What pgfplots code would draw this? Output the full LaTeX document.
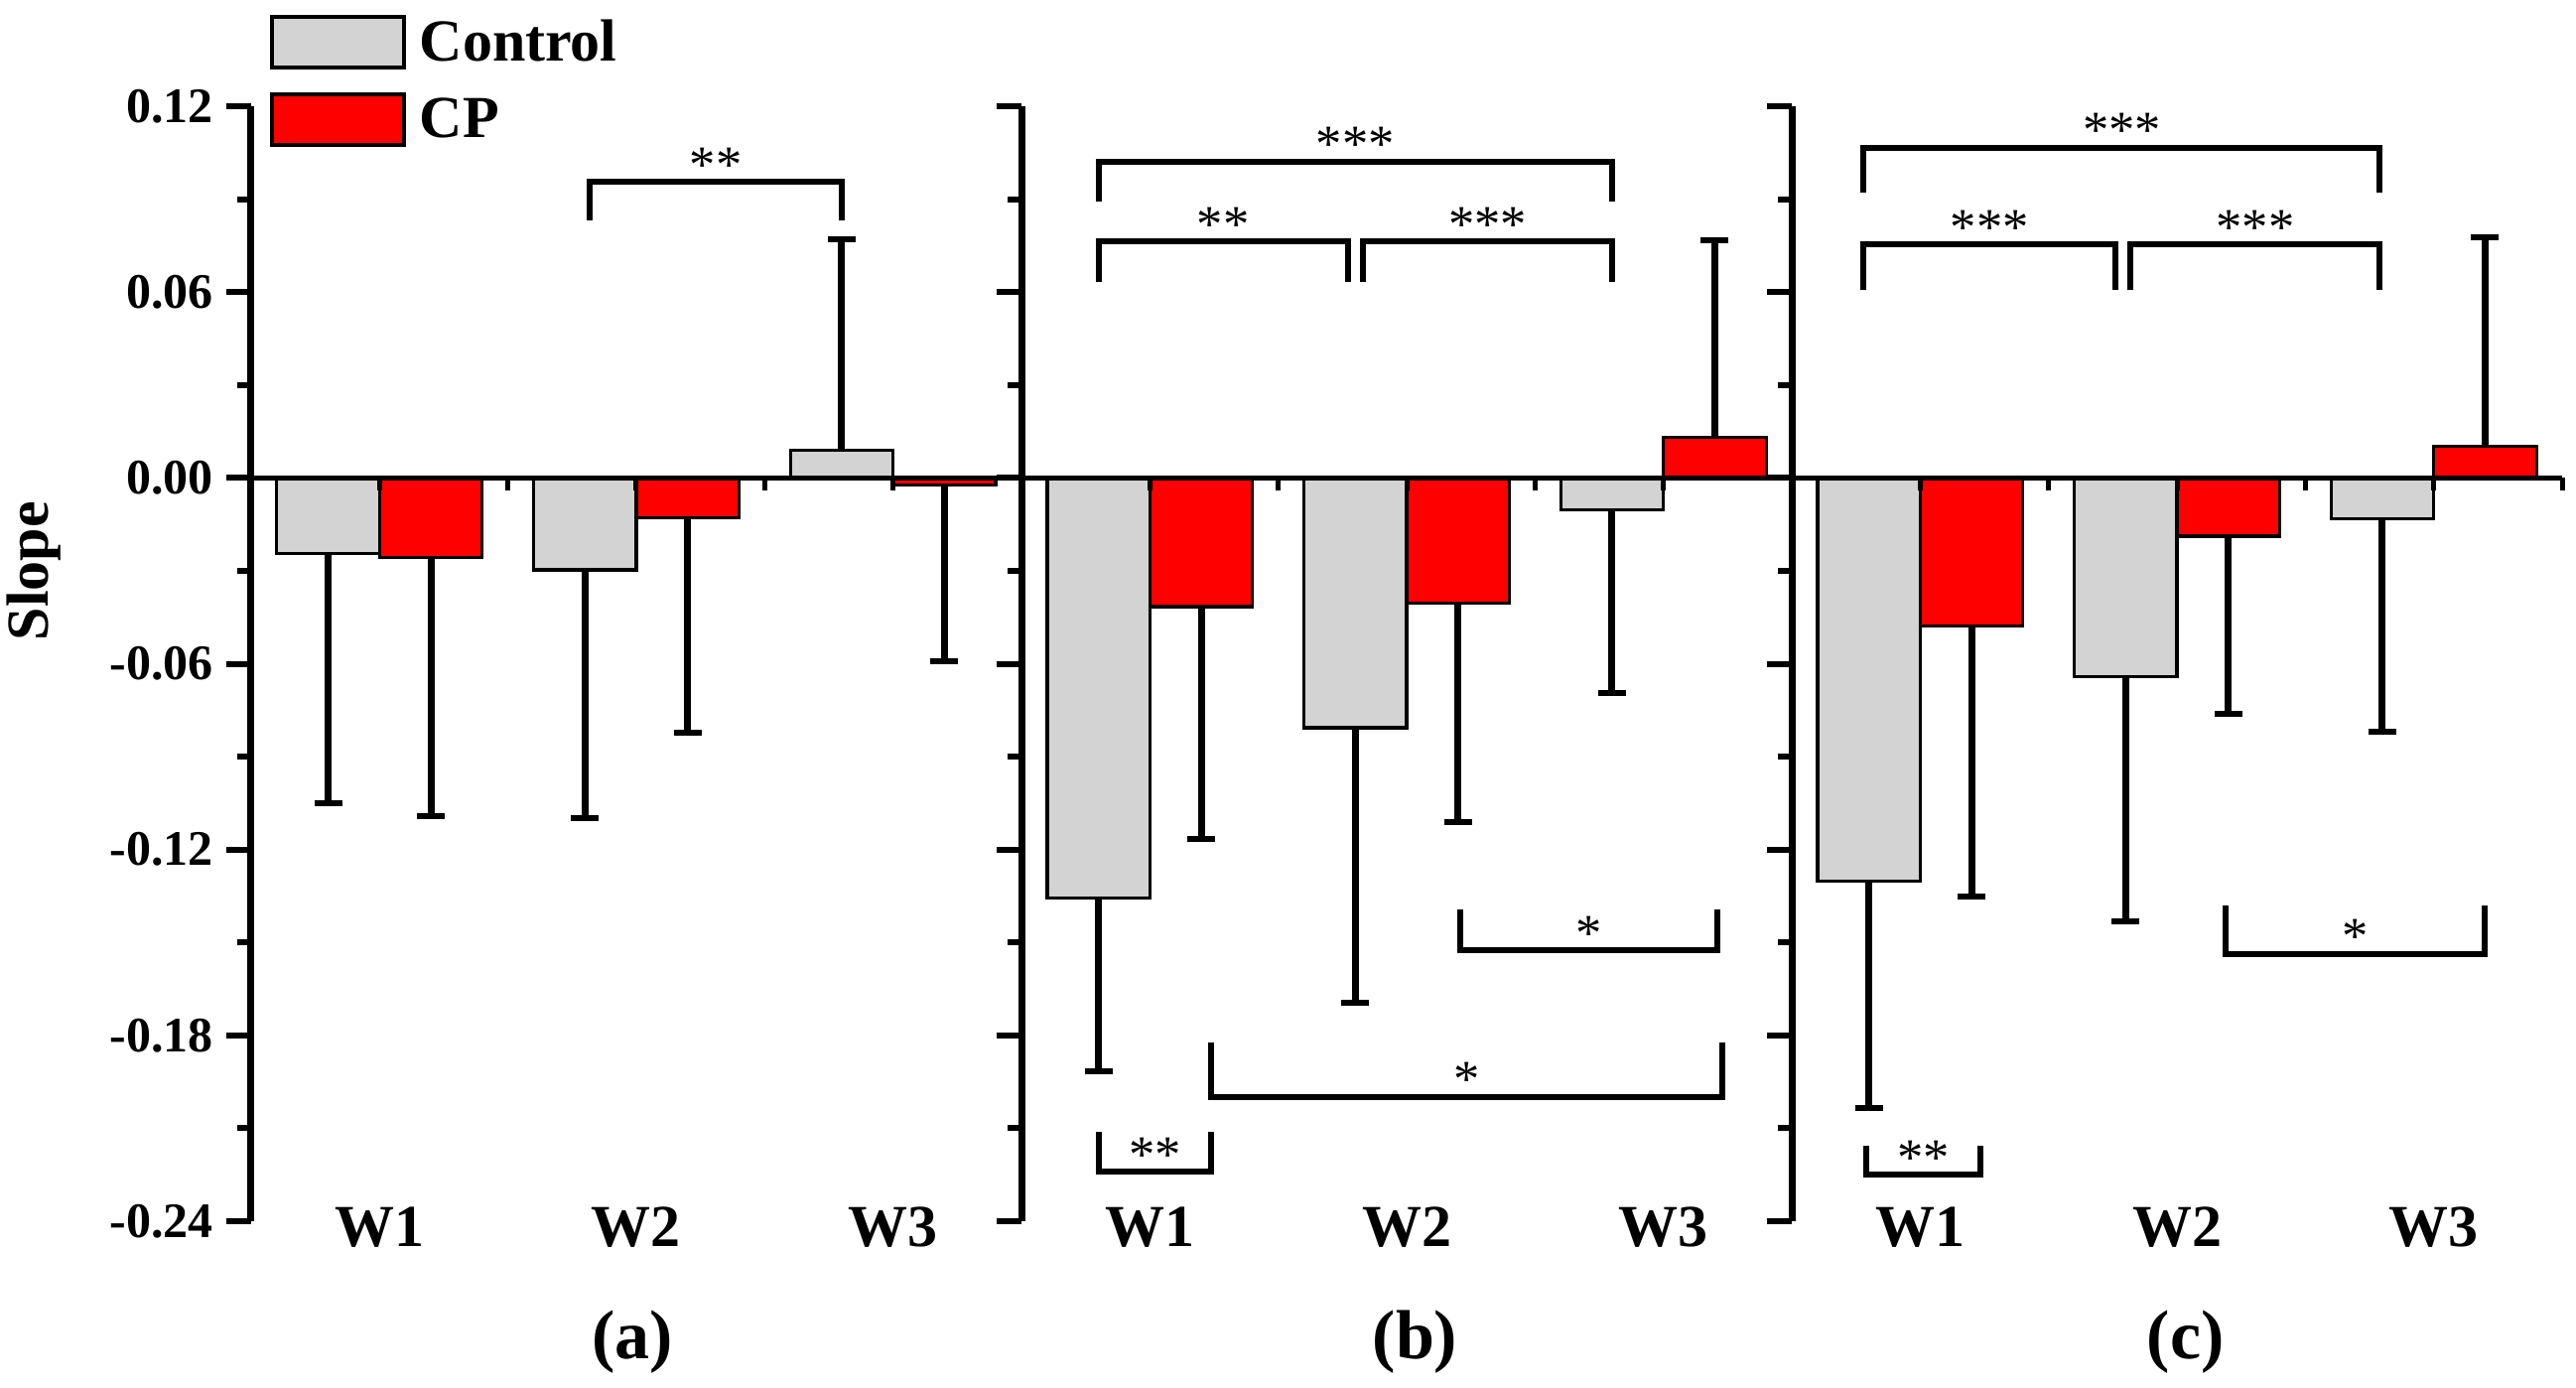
\documentclass[border=0pt]{standalone}
\usepackage{fontspec}
\setmainfont{Liberation Serif}
\usepackage{pgfplots}
\pgfplotsset{compat=1.18}
\definecolor{ctrl}{RGB}{211,211,211}
\definecolor{cpred}{RGB}{255,0,0}

\pgfplotsset{
  panel/.style={
    scale only axis, width=155.2pt, height=224.6pt,
    anchor=south west,
    xmin=0.5, xmax=3.5, ymin=-0.24, ymax=0.12,
    axis y line*=left, axis x line*=bottom,
    x axis line style={draw=none},
    y axis line style={line width=1.4pt},
    xtick={1,2,3}, xticklabels={W1,W2,W3},
    xtick style={draw=none},
    xtick align=inside, ytick align=outside,
    xticklabel style={font=\fontsize{12}{14}\selectfont\bfseries, anchor=base, yshift=-5pt},
    ytick={-0.24,-0.18,-0.12,-0.06,0,0.06,0.12},
    minor y tick num=1,
    major tick length=5pt, minor tick length=2.8pt,
    every tick/.style={black, line width=1.2pt},
    clip=false,
    xlabel style={font=\fontsize{14}{16}\selectfont\bfseries, anchor=center},
  },
  ctrlbar/.style={ybar, bar width=0.4, bar shift=0pt, fill=ctrl, draw=black, line width=0.65pt},
  cpbar/.style={ybar, bar width=0.4, bar shift=0pt, fill=cpred, draw=black, line width=0.65pt},
  errneg/.style={error bars/y dir=minus, error bars/y explicit,
    error bars/error bar style={line width=1.4pt, black},
    error bars/error mark options={rotate=90, mark size=2.8pt, line width=1.2pt, black}},
  errpos/.style={error bars/y dir=plus, error bars/y explicit,
    error bars/error bar style={line width=1.4pt, black},
    error bars/error mark options={rotate=90, mark size=2.8pt, line width=1.2pt, black}},
}

% zero line with small downward ticks
\newcommand{\zeroline}{%
  \draw[line width=1.1pt] (axis cs:0.5,0) -- (axis cs:3.5,0);
  \pgfplotsinvokeforeach{1,1.5,2,2.5,3,3.5}{\draw[line width=1pt] (axis cs:##1,0) -- ([yshift=-2.6pt]axis cs:##1,0);}
}
% significance bracket: x1, x2, y of bar, y of leg ends, x middle, label
\newcommand{\brk}[6]{%
  \draw[line width=1.2pt] (axis cs:#1,#4) -- (axis cs:#1,#3) -- (axis cs:#2,#3) -- (axis cs:#2,#4);
  \node[anchor=base, inner sep=0pt, font=\fontsize{10.5}{12}\selectfont] at (axis cs:#5,#3) {#6};
}

\begin{document}
\begin{tikzpicture}
% ---------------- (a) ----------------
\begin{axis}[panel, at={(0pt,0pt)},
  yticklabels={-0.24,-0.18,-0.12,-0.06,0.00,0.06,0.12},
  yticklabel style={font=\fontsize{10}{12}\selectfont\bfseries, anchor=east, inner sep=0pt, xshift=-2.4pt},
  ylabel={Slope},
  ylabel style={at={(axis description cs:-0.2815,0.583)}, anchor=center, font=\fontsize{12}{14}\selectfont\bfseries},
  xlabel={(a)},
  xlabel style={at={(axis description cs:0.495,-0.1086)}},
  legend style={at={(axis description cs:0.0235,1.0876)}, anchor=north west, draw=none, fill=none,
    inner sep=0pt, row sep=2pt, font=\fontsize{12}{14}\selectfont\bfseries,
    nodes={inner sep=2pt, text depth=0.15em},
    /tikz/every odd column/.append style={column sep=0.7pt}},
  legend cell align=left,
  legend image code/.code={\draw[#1, line width=0.8pt] (0pt,-4.7pt) rectangle (26.6pt,5.5pt);},
]
\addlegendimage{fill=ctrl, draw=black}
\addlegendentry{Control}
\addlegendimage{fill=cpred, draw=black}
\addlegendentry{CP}
\addplot[ctrlbar, errneg] coordinates {(0.8,-0.0244) +- (0,0.0807) (1.8,-0.0297) +- (0,0.0801)};
\addplot[ctrlbar, errpos] coordinates {(2.8,0.0089) +- (0,0.0681)};
\addplot[cpbar, errneg] coordinates {(1.2,-0.0258) +- (0,0.0835) (2.2,-0.0129) +- (0,0.0693) (3.2,-0.0022) +- (0,0.0570)};
\zeroline
\brk{1.82}{2.80}{0.0956}{0.083}{2.31}{**}
\end{axis}

% ---------------- (b) ----------------
\begin{axis}[panel, at={(155.2pt,0pt)},
  yticklabels={{},{},{},{},{},{},{}},
  xlabel={(b)},
  xlabel style={at={(axis description cs:0.511,-0.1086)}},
]
\addplot[ctrlbar, errneg] coordinates {(0.8,-0.1357) +- (0,0.0559) (1.8,-0.0807) +- (0,0.0887) (2.8,-0.0103) +- (0,0.0590)};
\addplot[cpbar, errneg] coordinates {(1.2,-0.0416) +- (0,0.0750) (2.2,-0.0405) +- (0,0.0707)};
\addplot[cpbar, errpos] coordinates {(3.2,0.0131) +- (0,0.0636)};
\zeroline
\brk{0.80}{2.80}{0.1021}{0.0893}{1.80}{***}
\brk{0.80}{1.77}{0.0764}{0.0633}{1.285}{**}
\brk{1.83}{2.80}{0.0764}{0.0633}{2.315}{***}
\brk{2.21}{3.21}{-0.1525}{-0.1394}{2.71}{*}
\brk{1.24}{3.23}{-0.1999}{-0.1822}{2.235}{*}
\brk{0.80}{1.24}{-0.2240}{-0.2113}{1.02}{**}
\end{axis}

% ---------------- (c) ----------------
\begin{axis}[panel, at={(310.4pt,0pt)},
  yticklabels={{},{},{},{},{},{},{}},
  xlabel={(c)},
  xlabel style={at={(axis description cs:0.511,-0.1086)}},
]
\addplot[ctrlbar, errneg] coordinates {(0.8,-0.1303) +- (0,0.0732) (1.8,-0.0641) +- (0,0.0790) (2.8,-0.0131) +- (0,0.0687)};
\addplot[cpbar, errneg] coordinates {(1.2,-0.0479) +- (0,0.0872) (2.2,-0.0188) +- (0,0.0573)};
\addplot[cpbar, errpos] coordinates {(3.2,0.0103) +- (0,0.0675)};
\zeroline
\brk{0.78}{2.79}{0.1066}{0.0921}{1.785}{***}
\brk{0.78}{1.76}{0.0753}{0.0607}{1.27}{***}
\brk{1.82}{2.79}{0.0753}{0.0607}{2.305}{***}
\brk{2.19}{3.20}{-0.1536}{-0.1380}{2.695}{*}
\brk{0.79}{1.235}{-0.2250}{-0.2155}{1.0125}{**}
\end{axis}
\pgfresetboundingbox
\useasboundingbox (-50.6pt,-33.4pt) rectangle (468.4pt,246pt);
\end{tikzpicture}
\end{document}
